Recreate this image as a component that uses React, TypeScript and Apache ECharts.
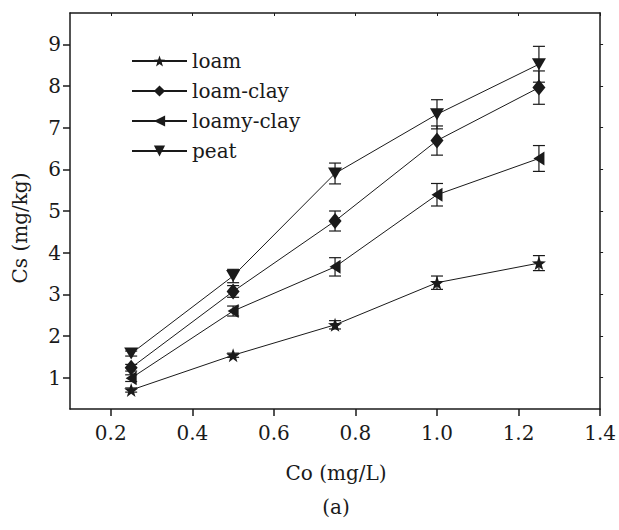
import React, { useEffect, useRef } from "react";
import * as echarts from "echarts";

const xValues = [0.25, 0.5, 0.75, 1.0, 1.25];
const seriesNames = ["loam", "loam-clay", "loamy-clay", "peat"];
const loam = [0.705, 1.54, 2.27, 3.28, 3.75];
const loamErr = [0.05, 0.05, 0.1, 0.16, 0.18];
const loamClay = [1.24, 3.07, 4.76, 6.69, 7.96];
const loamClayErr = [0.08, 0.14, 0.24, 0.35, 0.4];
const loamyClay = [0.99, 2.6, 3.66, 5.39, 6.26];
const loamyClayErr = [0.08, 0.12, 0.22, 0.27, 0.31];
const peat = [1.58, 3.44, 5.9, 7.32, 8.52];
const peatErr = [0.06, 0.16, 0.25, 0.35, 0.43];
const xTicks = [0.2, 0.4, 0.6, 0.8, 1.0, 1.2, 1.4];
const yTicks = [1, 2, 3, 4, 5, 6, 7, 8, 9];

const FONT = "DejaVu Serif";
const FS = 20;
const INK = "#1a1a1a";

const STAR =
  "path://M0,-10 L2.35,-3.24 L9.51,-3.09 L3.8,1.24 L5.88,8.09 L0,4 L-5.88,8.09 L-3.8,1.24 L-9.51,-3.09 L-2.35,-3.24 Z";
const LEFT_TRI = "path://M0,6 L10,0 L10,12 Z";
const DOWN_TRI = "path://M0,0 L12,0 L6,10 Z";

export default function App() {
  const ref = useRef<HTMLDivElement>(null);
  useEffect(() => {
    if (!ref.current) return;
    const chart = echarts.init(ref.current, null, { renderer: "svg" });
    const sets = [
      { name: seriesNames[0], vals: loam, err: loamErr, symbol: STAR, size: [14, 14] },
      { name: seriesNames[1], vals: loamClay, err: loamClayErr, symbol: "diamond", size: [13, 16] },
      { name: seriesNames[2], vals: loamyClay, err: loamyClayErr, symbol: LEFT_TRI, size: [11, 14] },
      { name: seriesNames[3], vals: peat, err: peatErr, symbol: DOWN_TRI, size: [14, 12] },
    ];
    const lineSeries = sets.map((s) => ({
      name: s.name,
      type: "line",
      data: xValues.map((x, i) => [x, s.vals[i]]),
      symbol: s.symbol,
      symbolSize: s.size,
      showAllSymbol: true,
      itemStyle: { color: INK, borderWidth: 0 },
      lineStyle: { color: INK, width: 1 },
      z: 3,
    }));
    const errSeries = sets.map((s) => ({
      name: s.name + "-err",
      type: "custom",
      data: xValues.map((x, i) => [x, s.vals[i] - s.err[i], s.vals[i] + s.err[i]]),
      encode: { x: 0, y: [1, 2] },
      z: 2,
      renderItem: (params: any, api: any) => {
        const x = api.value(0);
        const p1 = api.coord([x, api.value(2)]);
        const p2 = api.coord([x, api.value(1)]);
        const w = 6;
        const st = { stroke: INK, lineWidth: 1.2 };
        return {
          type: "group",
          children: [
            { type: "line", shape: { x1: p1[0], y1: p1[1], x2: p2[0], y2: p2[1] }, style: st },
            { type: "line", shape: { x1: p1[0] - w, y1: p1[1], x2: p1[0] + w, y2: p1[1] }, style: st },
            { type: "line", shape: { x1: p2[0] - w, y1: p2[1], x2: p2[0] + w, y2: p2[1] }, style: st },
          ],
        };
      },
    }));
    const axisLine = { show: true, onZero: false, lineStyle: { color: INK, width: 1.5 } };
    const labelStyle = { fontFamily: FONT, fontSize: FS, color: INK };
    const titleStyle = {
      fontFamily: FONT,
      fontSize: FS,
      fill: INK,
      textAlign: "center",
      textVerticalAlign: "middle",
    };
    chart.setOption({
      animation: false,
      backgroundColor: "#fff",
      textStyle: { fontFamily: FONT },
      grid: { left: 70, top: 13, right: 17, bottom: 121 },
      legend: {
        orient: "vertical",
        left: 131,
        top: 49,
        padding: 0,
        itemWidth: 55,
        itemHeight: 14,
        itemGap: 6,
        data: seriesNames,
        textStyle: { ...labelStyle, lineHeight: 24 },
      },
      xAxis: [
        {
          type: "value",
          min: 0.1,
          max: 1.4,
          axisLine,
          splitLine: { show: false },
          axisTick: { show: true, length: 7, lineStyle: { color: INK, width: 1.5 }, customValues: xTicks },
          axisLabel: {
            ...labelStyle,
            margin: 14,
            customValues: xTicks,
            formatter: (v: number) => v.toFixed(1),
          },
        },
        {
          type: "value",
          position: "top",
          min: 0.1,
          max: 1.4,
          axisLine,
          splitLine: { show: false },
          axisTick: { show: true, inside: true, length: 3, lineStyle: { color: INK }, customValues: xTicks },
          axisLabel: { show: false },
        },
      ],
      yAxis: [
        {
          type: "value",
          min: 0.25,
          max: 9.75,
          axisLine,
          splitLine: { show: false },
          axisTick: { show: true, length: 7, lineStyle: { color: INK, width: 1.5 }, customValues: yTicks },
          axisLabel: { ...labelStyle, margin: 9, customValues: yTicks },
        },
        {
          type: "value",
          position: "right",
          min: 0.25,
          max: 9.75,
          axisLine,
          splitLine: { show: false },
          axisTick: { show: true, length: 3, lineStyle: { color: INK }, customValues: yTicks },
          axisLabel: { show: false },
        },
      ],
      graphic: [
        {
          type: "text",
          x: 20,
          y: 228,
          rotation: Math.PI / 2,
          style: { text: "Cs (mg/kg)", ...titleStyle },
        },
        {
          type: "text",
          x: 336,
          y: 473,
          style: { text: "Co (mg/L)", ...titleStyle },
        },
        {
          type: "text",
          x: 336,
          y: 507,
          style: { text: "(a)", ...titleStyle },
        },
      ],
      series: [...errSeries, ...lineSeries],
    });
    return () => chart.dispose();
  }, []);
  return (
    <div
      ref={ref}
      style={{ position: "fixed", left: 0, top: 0, width: 619, height: 530 }}
    />
  );
}
